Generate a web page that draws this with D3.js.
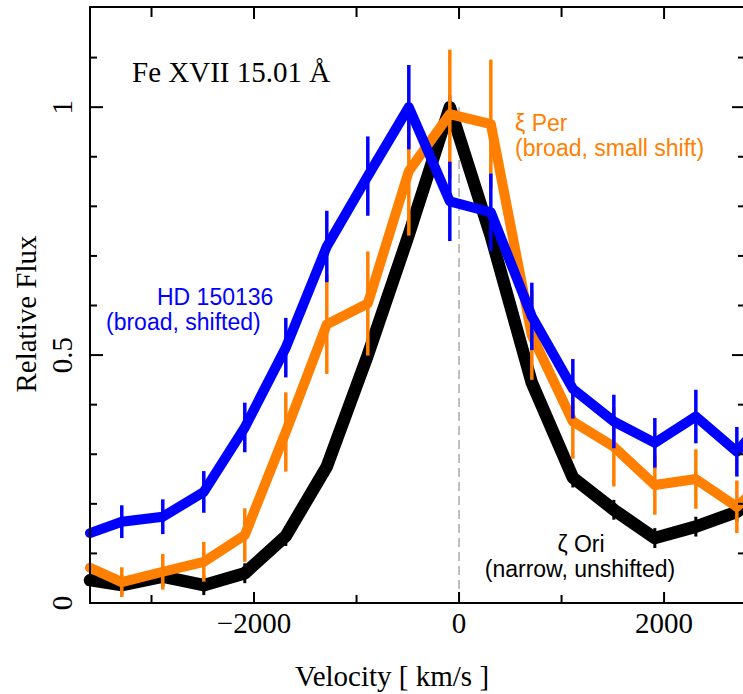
<!DOCTYPE html>
<html><head><meta charset="utf-8">
<script src="https://cdn.jsdelivr.net/npm/d3@7"></script>
<style>body{margin:0;background:#fff}svg{display:block}</style>
</head><body>
<script>
const velocity = [-3600, -3290, -2890, -2490, -2090, -1690, -1290, -890, -490, -90, 310, 710, 1110, 1510, 1910, 2310, 2710, 3110];
const zetaOri = [0.046, 0.036, 0.053, 0.036, 0.06, 0.135, 0.275, 0.50, 0.743, 1.0, 0.74, 0.444, 0.253, 0.188, 0.131, 0.154, 0.184, 0.24];
const zetaOriErr = [null, 0.02, 0.02, 0.02, 0.02, 0.02, 0.02, 0.02, 0.02, 0.025, 0.02, 0.02, 0.02, 0.02, 0.02, 0.02, 0.02, 0.02];
const xiPer = [0.071, 0.042, 0.063, 0.083, 0.137, 0.345, 0.562, 0.604, 0.871, 0.986, 0.966, 0.54, 0.366, 0.315, 0.238, 0.25, 0.194, 0.27];
const xiPerErr = [null, 0.03, 0.036, 0.04, 0.054, 0.08, 0.1, 0.105, 0.13, 0.13, 0.13, 0.09, 0.075, 0.08, 0.06, 0.06, 0.053, 0.05];
const hd150136 = [0.141, 0.164, 0.174, 0.224, 0.354, 0.515, 0.719, 0.861, 1.0, 0.81, 0.788, 0.578, 0.432, 0.366, 0.323, 0.376, 0.305, 0.40];
const hd150136Err = [null, 0.033, 0.035, 0.042, 0.05, 0.06, 0.072, 0.08, 0.085, 0.08, 0.078, 0.068, 0.06, 0.054, 0.05, 0.054, 0.05, 0.05];
const xTickValues = [-2000, 0, 2000];
const xMinorValues = [-3000, -1000, 1000];
const yTickValues = [0, 0.5, 1];
const yMinorValues = [0.1, 0.2, 0.3, 0.4, 0.6, 0.7, 0.8, 0.9, 1.1];

const W = 743, H = 694;
const svg = d3.select("body").append("svg").attr("width", W).attr("height", H);
const x = d3.scaleLinear().domain([-3600, 2770]).range([90, 743]);
const y = d3.scaleLinear().domain([0, 1.2]).range([603, 8]);
const serif = "'Liberation Serif','Times New Roman',serif";
const sans = "'Liberation Sans',Arial,sans-serif";

svg.append("defs").append("clipPath").attr("id", "clip")
  .append("rect").attr("x", 0).attr("y", 0).attr("width", 743).attr("height", 603);

const plot = svg.append("g").attr("clip-path", "url(#clip)");

// zero-velocity dashed line
plot.append("line").attr("x1", x(0)).attr("x2", x(0)).attr("y1", y(0)).attr("y2", y(1.0))
  .attr("stroke", "#aaa").attr("stroke-width", 1.5).attr("stroke-dasharray", "9,5");

const series = [
  {vals: zetaOri, err: zetaOriErr, color: "#000", lw: 12.5, ew: 3},
  {vals: xiPer, err: xiPerErr, color: "#ff7f00", lw: 10, ew: 3.5},
  {vals: hd150136, err: hd150136Err, color: "#0000ff", lw: 10, ew: 3.5}
];
const line = d3.line().x(d => x(d[0])).y(d => y(d[1]));
series.forEach(s => {
  const pts = velocity.map((v, i) => [v, s.vals[i], s.err[i]]);
  plot.append("path").datum(pts).attr("d", line).attr("fill", "none")
    .attr("stroke", s.color).attr("stroke-width", s.lw)
    .attr("stroke-linejoin", "round").attr("stroke-linecap", "round");
  plot.selectAll(null).data(pts.filter(p => p[2] != null)).enter().append("line")
    .attr("x1", d => x(d[0])).attr("x2", d => x(d[0]))
    .attr("y1", d => y(d[1] - d[2])).attr("y2", d => y(d[1] + d[2]))
    .attr("stroke", s.color).attr("stroke-width", s.ew);
});

// axes
const axG = svg.append("g").attr("stroke", "#000").attr("stroke-width", 2);
const x0 = 90, x1 = 744, yT = 7, yB = 603;
axG.append("line").attr("x1", x0).attr("x2", x0).attr("y1", yT).attr("y2", yB);
axG.append("line").attr("x1", x0 - 1).attr("x2", x1).attr("y1", yB).attr("y2", yB);
axG.append("line").attr("x1", x0 - 1).attr("x2", x1).attr("y1", yT).attr("y2", yT);
axG.append("line").attr("x1", x1).attr("x2", x1).attr("y1", yT).attr("y2", yB);

// x ticks
xTickValues.forEach(v => {
  axG.append("line").attr("x1", x(v)).attr("x2", x(v)).attr("y1", yB).attr("y2", yB - 11);
  axG.append("line").attr("x1", x(v)).attr("x2", x(v)).attr("y1", yT).attr("y2", yT + 12);
});
xMinorValues.forEach(v => {
  axG.append("line").attr("x1", x(v)).attr("x2", x(v)).attr("y1", yB).attr("y2", yB - 8);
  axG.append("line").attr("x1", x(v)).attr("x2", x(v)).attr("y1", yT).attr("y2", yT + 10);
});
yTickValues.forEach(v => {
  axG.append("line").attr("x1", x0).attr("x2", x0 + 13).attr("y1", y(v)).attr("y2", y(v));
  axG.append("line").attr("x1", x1).attr("x2", x1 - 12).attr("y1", y(v)).attr("y2", y(v));
});
yMinorValues.forEach(v => {
  axG.append("line").attr("x1", x0).attr("x2", x0 + 7).attr("y1", y(v)).attr("y2", y(v));
  axG.append("line").attr("x1", x1).attr("x2", x1 - 6).attr("y1", y(v)).attr("y2", y(v));
});

// tick labels
const fmtX = v => v < 0 ? "\u2212" + Math.abs(v) : String(v);
svg.selectAll(null).data(xTickValues).enter().append("text")
  .attr("x", d => x(d)).attr("y", 633).attr("text-anchor", "middle")
  .attr("font-family", serif).attr("font-size", 29).text(fmtX);
svg.selectAll(null).data(yTickValues).enter().append("text")
  .attr("transform", d => `translate(72,${y(d)}) rotate(-90)`).attr("text-anchor", "middle")
  .attr("font-family", serif).attr("font-size", 29).text(d => String(d));

// axis titles
svg.append("text").attr("x", 392).attr("y", 686).attr("text-anchor", "middle")
  .attr("font-family", serif).attr("font-size", 29).text("Velocity [ km/s ]");
svg.append("text").attr("transform", "translate(36,314) rotate(-90)").attr("text-anchor", "middle")
  .attr("font-family", serif).attr("font-size", 29).text("Relative Flux");

// annotations
svg.append("text").attr("x", 132).attr("y", 82).attr("font-family", serif).attr("font-size", 29)
  .text("Fe XVII 15.01 \u00C5");
const ann = [
  {t: "\u03BE Per", x: 515, y: 131, c: "#ff7f00", a: "start"},
  {t: "(broad, small shift)", x: 515, y: 156, c: "#ff7f00", a: "start"},
  {t: "HD 150136", x: 157, y: 305, c: "#0000ff", a: "start"},
  {t: "(broad, shifted)", x: 106, y: 330, c: "#0000ff", a: "start"},
  {t: "\u03B6 Ori", x: 581, y: 552, c: "#000", a: "middle"},
  {t: "(narrow, unshifted)", x: 580, y: 577, c: "#000", a: "middle"}
];
svg.selectAll(null).data(ann).enter().append("text")
  .attr("x", d => d.x).attr("y", d => d.y).attr("text-anchor", d => d.a)
  .attr("fill", d => d.c).attr("font-family", sans).attr("font-size", 23).text(d => d.t);
</script>
</body></html>
